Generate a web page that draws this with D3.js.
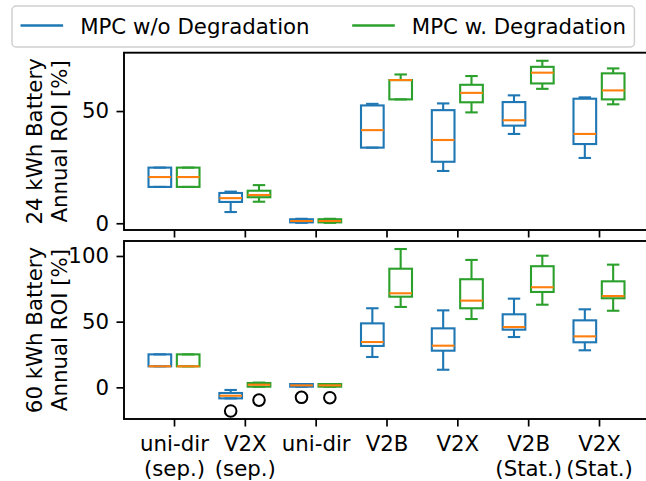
<!DOCTYPE html>
<html>
<head>
<meta charset="utf-8">
<script src="https://cdn.jsdelivr.net/npm/d3@7"></script>
<style>
  body { margin: 0; background: #fff; }
  text { font-family: "DejaVu Sans", sans-serif; fill: #000; }
</style>
</head>
<body>
<svg id="chart" width="646" height="481"></svg>
<script>
// Scenario labels (two-line where needed)
const categories = [
  ["uni-dir", "(sep.)"], ["V2X", "(sep.)"], ["uni-dir"], ["V2B"],
  ["V2X"], ["V2B", "(Stat.)"], ["V2X", "(Stat.)"]
];
const seriesNames = ["MPC w/o Degradation", "MPC w. Degradation"];
const seriesColors = ["#1f77b4", "#2ca02c"];

// Box statistics per scenario: [lower whisker, Q1, median, Q3, upper whisker]
const roi24NoDeg = [
  [16.2, 16.2, 20.6, 24.8, 24.8],
  [5.0, 9.5, 11.2, 13.5, 14.1],
  [0.2, 0.4, 1.0, 1.8, 2.0],
  [33.7, 33.7, 41.5, 52.5, 53.2],
  [23.3, 27.4, 37.1, 50.4, 53.4],
  [39.8, 43.5, 45.9, 54.0, 57.0],
  [29.1, 35.3, 39.8, 55.5, 56.1]
];
const roi24Deg = [
  [16.2, 16.2, 20.6, 24.8, 24.8],
  [9.6, 11.6, 12.6, 14.5, 17.0],
  [0.2, 0.4, 1.0, 1.8, 2.0],
  [55.2, 55.2, 63.8, 63.8, 66.3],
  [49.4, 53.9, 58.1, 61.7, 65.6],
  [59.9, 62.3, 67.1, 69.7, 72.4],
  [53.0, 55.2, 59.2, 66.8, 69.0]
];
const roi60NoDeg = [
  [16.0, 16.0, 16.0, 25.1, 25.1],
  [-8.4, -8.4, -6.4, -4.3, -2.0],
  [0.5, 0.5, 1.5, 2.5, 2.5],
  [23.1, 31.5, 34.5, 48.7, 60.2],
  [13.4, 27.9, 31.7, 44.9, 58.6],
  [38.3, 43.9, 45.9, 55.6, 67.5],
  [28.2, 34.3, 38.8, 51.0, 59.4]
];
const roi60Deg = [
  [16.0, 16.0, 16.0, 25.1, 25.1],
  [0.5, 0.5, 2.0, 3.3, 3.6],
  [0.5, 0.5, 1.5, 2.5, 2.5],
  [61.2, 69.0, 71.6, 90.3, 105.3],
  [52.0, 60.2, 66.0, 82.3, 97.0],
  [62.9, 72.6, 76.2, 92.2, 100.2],
  [58.3, 67.8, 69.5, 80.7, 93.4]
];
const outliers24NoDeg = [[], [], [], [], [], [], []];
const outliers24Deg = [[], [], [], [], [], [], []];
const outliers60NoDeg = [[], [-18.0], [-7.6], [], [], [], []];
const outliers60Deg = [[], [-9.7], [-7.9], [], [], [], []];

const yTicks24 = [0, 50];
const yTicks60 = [0, 50, 100];

const FONT = 21.3;
const svg = d3.select("#chart");

const panels = [
  { top: 52.7, bottom: 230, domain: [-3.0, 76], ticks: yTicks24,
    title: ["24 kWh Battery", "Annual ROI [%]"],
    stats: [roi24NoDeg, roi24Deg], outliers: [outliers24NoDeg, outliers24Deg], labels: false },
  { top: 241, bottom: 419, domain: [-24.1, 111.4], ticks: yTicks60,
    title: ["60 kWh Battery", "Annual ROI [%]"],
    stats: [roi60NoDeg, roi60Deg], outliers: [outliers60NoDeg, outliers60Deg], labels: true }
];

const x = d3.scaleLinear().domain([-0.706, 6.706]).range([124, 649]);
const offsets = [-0.2, 0.2];
const boxW = 0.32;

panels.forEach(p => {
  const y = d3.scaleLinear().domain(p.domain).range([p.bottom, p.top]);
  const g = svg.append("g");

  // y axis
  const ya = g.append("g")
    .attr("transform", `translate(${x.range()[0]},0)`)
    .call(d3.axisLeft(y).tickValues(p.ticks).tickSize(7.5).tickPadding(7.5).tickSizeOuter(0));
  ya.select(".domain").remove();
  ya.selectAll(".tick line").attr("stroke", "#000").attr("stroke-width", 1.7);
  ya.selectAll(".tick text").attr("font-size", FONT).attr("fill", "#000")
    .attr("font-family", "DejaVu Sans, sans-serif");

  // x axis
  const xa = g.append("g")
    .attr("transform", `translate(0,${p.bottom})`)
    .call(d3.axisBottom(x).tickValues(d3.range(categories.length)).tickSize(7.5).tickSizeOuter(0)
      .tickFormat(() => ""));
  xa.select(".domain").remove();
  xa.selectAll(".tick line").attr("stroke", "#000").attr("stroke-width", 1.7);
  if (p.labels) {
    xa.selectAll(".tick text").each(function (d) {
      const t = d3.select(this).text(null).attr("font-size", FONT).attr("fill", "#000")
        .attr("font-family", "DejaVu Sans, sans-serif").attr("y", 0).attr("dy", null);
      categories[d].forEach((line, k) => {
        t.append("tspan").attr("x", 0).attr("y", 32 + k * 25).text(line);
      });
    });
  }

  // boxes
  p.stats.forEach((series, s) => {
    const col = seriesColors[s];
    const half = (x(boxW) - x(0)) / 2;
    const cap = half * 0.55;
    series.forEach((st, i) => {
      const cx = x(i + offsets[s]);
      const [lo, q1, med, q3, hi] = st;
      const bg = g.append("g").attr("fill", "none");
      bg.append("line").attr("x1", cx).attr("x2", cx).attr("y1", y(q1)).attr("y2", y(lo))
        .attr("stroke", col).attr("stroke-width", 2.1);
      bg.append("line").attr("x1", cx).attr("x2", cx).attr("y1", y(q3)).attr("y2", y(hi))
        .attr("stroke", col).attr("stroke-width", 2.1);
      [lo, hi].forEach(v => bg.append("line")
        .attr("x1", cx - cap).attr("x2", cx + cap).attr("y1", y(v)).attr("y2", y(v))
        .attr("stroke", col).attr("stroke-width", 2.1));
      bg.append("rect").attr("x", cx - half).attr("width", 2 * half)
        .attr("y", y(q3)).attr("height", Math.max(0.1, y(q1) - y(q3)))
        .attr("stroke", col).attr("stroke-width", 2.1);
      bg.append("line").attr("x1", cx - half).attr("x2", cx + half)
        .attr("y1", y(med)).attr("y2", y(med))
        .attr("stroke", "#ff7f0e").attr("stroke-width", 2.1);
      p.outliers[s][i].forEach(v => bg.append("circle")
        .attr("cx", cx).attr("cy", y(v)).attr("r", 5.8)
        .attr("stroke", "#000").attr("stroke-width", 2));
    });
  });

  // frame
  g.append("rect").attr("x", x.range()[0]).attr("y", p.top)
    .attr("width", x.range()[1] - x.range()[0]).attr("height", p.bottom - p.top)
    .attr("fill", "none").attr("stroke", "#000").attr("stroke-width", 1.9);

  // y title (two lines)
  const cy = (p.top + p.bottom) / 2;
  p.title.forEach((line, k) => {
    g.append("text").attr("transform", `translate(${k === 0 ? 41.5 : 67},${cy}) rotate(-90)`)
      .attr("text-anchor", "middle").attr("font-size", FONT).text(line);
  });
});

// legend: handles and labels laid out in one row
const lg = svg.append("g");
const frame = lg.append("rect").attr("x", 12).attr("y", 6).attr("height", 41)
  .attr("rx", 4).attr("fill", "#fff").attr("stroke", "#d0d0d0").attr("stroke-width", 1.5);
const pad = 0.4 * FONT, handleLen = 2 * FONT, textPad = 0.8 * FONT, colGap = 2 * FONT;
let cursor = 12 + pad;
seriesNames.forEach((name, s) => {
  lg.append("line").attr("x1", cursor).attr("x2", cursor + handleLen)
    .attr("y1", 25.5).attr("y2", 25.5).attr("stroke", seriesColors[s]).attr("stroke-width", 2.4);
  cursor += handleLen + textPad;
  const t = lg.append("text").attr("x", cursor).attr("y", 33.5).attr("font-size", FONT).text(name);
  cursor += t.node().getComputedTextLength();
  if (s < seriesNames.length - 1) cursor += colGap;
});
frame.attr("width", cursor + pad - 12);
</script>
</body>
</html>
